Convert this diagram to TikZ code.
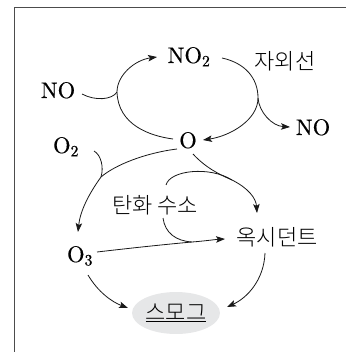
\documentclass[tikz,border=0pt]{standalone}
\usepackage{fontspec}
\IfFontExistsTF{Noto Sans CJK KR Light}
  {\newfontfamily\kr{Noto Sans CJK KR Light}}
  {\newfontfamily\kr{Noto Sans CJK KR}}
\newfontfamily\lmten[Extension=.otf,FakeBold=0.5]{lmroman10-regular}
\usetikzlibrary{arrows.meta,shapes.geometric}
\begin{document}
\begin{tikzpicture}[x=1pt,y=-1pt,
  chem/.style={inner sep=0pt,font=\lmten\fontsize{22.5}{26}\selectfont},
  hang/.style={inner sep=0pt,font=\kr\fontsize{22}{26}\selectfont},
  conn/.style={line width=0.8pt,draw=black!90},
  arr/.style={conn,-{Stealth[length=9pt,width=6.5pt,inset=2pt]}}]
\useasboundingbox (0,0) rectangle (346,352);
\draw[line width=1pt,black!70] (14.5,352) -- (14.5,8) -- (346,8);

% nodes
\node[chem,anchor=base] (no1) at (58,98) {NO};
\node[chem,anchor=base] (no2) at (189,63) {NO\textsubscript{2}};
\node[hang] (uv) at (285,61) {자외선};
\node[chem,anchor=base] (no3) at (313,135) {NO};
\node[chem,anchor=base] (o) at (188,148) {O};
\node[chem,anchor=base] (o2) at (66,153) {O\textsubscript{2}};
\node[hang] (hc) at (155,205) {탄화 수소};
\node[hang] (ox) at (277,237) {옥시던트};
\node[chem,anchor=base] (o3) at (80,262) {O\textsubscript{3}};
\node[ellipse,fill={rgb,255:red,230;green,231;blue,232},minimum width=88pt,minimum height=42pt,inner sep=0pt,font=\kr\fontsize{22}{26}\selectfont] (smog) at (176,313) {\underline{스모그}};

% merge points
\coordinate (m1) at (117,92);
\coordinate (m2) at (258,98);
\coordinate (m3) at (101,177);
\coordinate (m4) at (232,180);
\coordinate (m5) at (192,242);

% NO + O -> NO2 cycle
\draw[arr] ([shift={(-15,-9)}]o.base) .. controls (150,136) and (118,125) .. (m1)
  .. controls (117,75) and (135,60) .. ([shift={(-32,-6)}]no2.base);
\draw[conn] ([shift={(24,-4)}]no1.base) .. controls (95,101) and (112,100) .. (m1);
\draw[arr] ([shift={(33,-5)}]no2.base) .. controls (245,63) and (258,78) .. (m2)
  .. controls (258,120) and (230,136) .. ([shift={(15,-8)}]o.base);
\draw[arr] (m2) .. controls (259,112) and (272,126) .. ([shift={(-23,-8)}]no3.base);

% O + O2 -> O3
\draw[arr] ([shift={(-11,1)}]o.base) .. controls (145,153) and (115,165) .. (m3)
  .. controls (88,195) and (80,212) .. ([shift={(-2,-30)}]o3.base);
\draw[conn] ([shift={(28,-2)}]o2.base) .. controls (101,155) and (104,167) .. (m3);

% O + HC -> oxidant
\draw[arr] ([shift={(5,6)}]o.base) .. controls (205,167) and (218,174) .. (m4)
  .. controls (248,188) and (256,198) .. ([shift={(-20,-24)}]ox.center);
\draw[conn] ([shift={(11,-20)}]hc.center) .. controls (170,170) and (210,166) .. (m4);

% O3 + HC -> oxidant
\draw[arr] ([shift={(17,-10)}]o3.base) .. controls (140,247) and (170,244) .. (m5)
  .. controls (205,241) and (215,239.5) .. ([shift={(-52,2)}]ox.center);
\draw[conn] ([shift={(8,13)}]hc.center) .. controls (165,233) and (176,241) .. (m5);

% -> smog
\draw[arr] ([shift={(8,13)}]o3.base) .. controls (98,292) and (112,302) .. ([shift={(-48,-5)}]smog.center);
\draw[arr] ([shift={(-12,16)}]ox.center) .. controls (264,280) and (247,298) .. ([shift={(51,-6)}]smog.center);
\end{tikzpicture}
\end{document}
